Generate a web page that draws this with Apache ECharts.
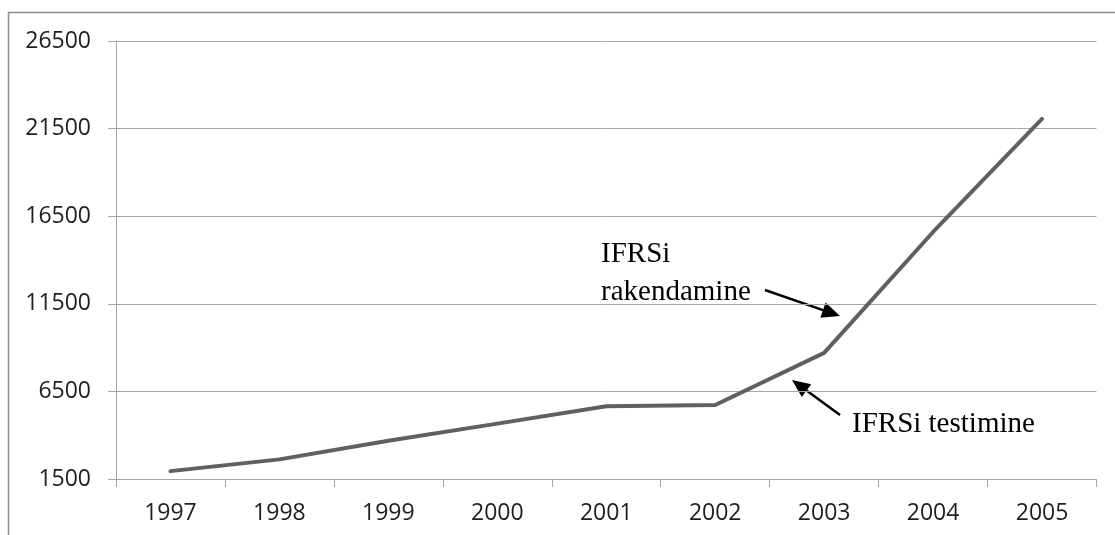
<!DOCTYPE html>
<html>
<head>
<meta charset="utf-8">
<script src="https://cdn.jsdelivr.net/npm/echarts@6/dist/echarts.min.js"></script>
<style>
  html, body { margin: 0; padding: 0; background: #ffffff; }
  #chart { width: 1115px; height: 535px; }
</style>
</head>
<body>
<div id="chart"></div>
<script>
// Years on the category axis
const years = ['1997', '1998', '1999', '2000', '2001', '2002', '2003', '2004', '2005'];
// Yearly values of the series
const values = [1950, 2620, 3680, 4660, 5650, 5720, 8700, 15600, 22050];
// Value-axis ticks
const yTicks = [1500, 6500, 11500, 16500, 21500, 26500];
// Annotation texts
const noteAdopt = ['IFRSi', 'rakendamine'];
const noteTest = 'IFRSi testimine';

const gridColor = '#a6a6a6';
const axisFont = { fontFamily: 'Open Sans', fontSize: 23, color: '#1e1e1e' };
const noteFont = '29px "Liberation Serif"';

// arrow built from a shaft and a filled head, pointing from (x1,y1) to (x2,y2)
function arrow(x1, y1, x2, y2) {
  const ang = Math.atan2(y2 - y1, x2 - x1);
  const len = 18, half = 8;
  const bx = x2 - len * Math.cos(ang), by = y2 - len * Math.sin(ang);
  const px = -Math.sin(ang) * half, py = Math.cos(ang) * half;
  return [
    { type: 'line', shape: { x1: x1, y1: y1, x2: bx, y2: by }, style: { stroke: '#000', lineWidth: 2.5 } },
    { type: 'polygon', shape: { points: [[x2, y2], [bx + px, by + py], [bx - px, by - py]] }, style: { fill: '#000' } }
  ];
}

const chart = echarts.init(document.getElementById('chart'), null, { renderer: 'canvas' });
chart.setOption({
  animation: false,
  grid: { left: 116, right: 18.5, top: 41, bottom: 56, containLabel: false },
  xAxis: {
    type: 'category',
    data: years,
    boundaryGap: true,
    axisLine: { show: true, lineStyle: { color: gridColor, width: 1 } },
    axisTick: { show: true, length: 8, alignWithLabel: false, lineStyle: { color: gridColor } },
    axisLabel: Object.assign({ margin: 23 }, axisFont),
    splitLine: { show: false }
  },
  yAxis: {
    type: 'value',
    min: 1500,
    max: 26500,
    axisLine: { show: true, lineStyle: { color: gridColor, width: 1 } },
    axisTick: { show: true, length: 8, inside: false, customValues: yTicks, lineStyle: { color: gridColor } },
    axisLabel: Object.assign({ margin: 25, customValues: yTicks, formatter: function (v) { return String(v); } }, axisFont),
    splitLine: { show: true, lineStyle: { color: gridColor, width: 1 } }
  },
  series: [{
    type: 'line',
    data: values,
    symbol: 'none',
    smooth: false,
    lineStyle: { color: '#606060', width: 4, cap: 'round', join: 'round' },
    z: 3
  }],
  graphic: [
    { type: 'rect', shape: { x: 8.5, y: 12.5, width: 1300, height: 700 }, style: { fill: null, stroke: '#8c8c8c', lineWidth: 1.5 }, silent: true },
    { type: 'text', left: 601, top: 240, style: { text: noteAdopt[0], font: noteFont, fill: '#000' } },
    { type: 'text', left: 601, top: 278, style: { text: noteAdopt[1], font: noteFont, fill: '#000' } },
    { type: 'text', left: 852, top: 410, style: { text: noteTest, font: noteFont, fill: '#000' } },
    ...arrow(765, 290, 840, 316),
    ...arrow(840, 415, 792, 380)
  ]
});
</script>
</body>
</html>
